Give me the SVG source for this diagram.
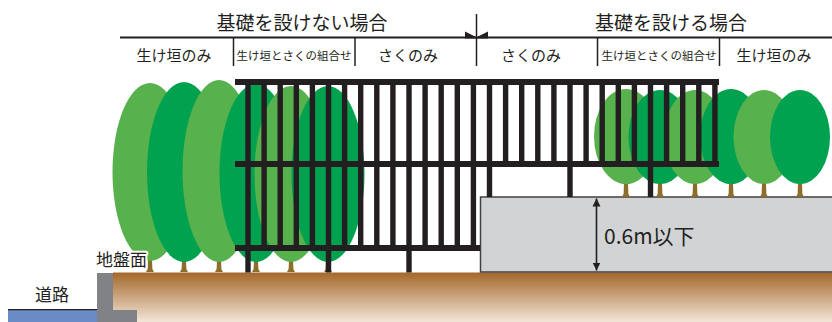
<svg xmlns="http://www.w3.org/2000/svg" xmlns:xlink="http://www.w3.org/1999/xlink" width="832" height="322" viewBox="0 0 832 322">
  <style>
    .t { font-family: "Noto Sans CJK JP", "Noto Sans", sans-serif; fill: #231f20; }
    .title { font-size: 19px; text-anchor: middle; }
    .sub { font-size: 15px; text-anchor: middle; }
    .small { font-size: 11.5px; text-anchor: middle; }
    .halo { stroke: #ffffff; stroke-width: 4px; stroke-linejoin: round; paint-order: stroke; }
    .rule { stroke: #231f20; fill: none; }
    .light { fill: #57b14c; }
    .dark { fill: #00a14f; }
    .trunk { fill: #8c6d2c; }
    .iron { fill: #231f20; }
  </style>
  <defs>
    <linearGradient id="soil" x1="0" y1="0" x2="0" y2="1">
      <stop offset="0" stop-color="#a4672a"/>
      <stop offset="1" stop-color="#f3e6d8"/>
    </linearGradient>
    <path id="trunk" d="M-2,-12 L2,-12 L2.4,-3 L4,0 L-4,0 L-2.4,-3 Z"/>
    <path id="trunkS" d="M-2,-14 L2,-14 L2.4,-3 L4,0 L-4,0 L-2.4,-3 Z"/>
    <marker id="tip" viewBox="0 0 10 10" refX="10" refY="5" markerWidth="8" markerHeight="10" markerUnits="userSpaceOnUse" orient="auto-start-reverse">
      <path d="M0,0 L10,5 L0,10 Z" fill="#231f20"/>
    </marker>
  </defs>

  <rect width="832" height="322" fill="#ffffff"/>

  <!-- header: titles, rules and column labels -->
  <g id="header">
    <text class="t title" x="302" y="30">基礎を設けない場合</text>
    <text class="t title" x="671" y="30">基礎を設ける場合</text>
    <line class="rule" x1="120" y1="37.5" x2="832" y2="37.5" stroke-width="2"/>
    <line class="rule" x1="476.5" y1="14" x2="476.5" y2="66" stroke-width="1.5"/>
    <path class="iron" d="M465,31.5 L476,37 L476,38.5 L465,38.5 Z"/>
    <path class="iron" d="M488,31.5 L477,37 L477,38.5 L488,38.5 Z"/>
    <line class="rule" x1="233.5" y1="37" x2="233.5" y2="66" stroke-width="1.5"/>
    <line class="rule" x1="355" y1="37" x2="355" y2="66" stroke-width="1.5"/>
    <line class="rule" x1="597.5" y1="37" x2="597.5" y2="66" stroke-width="1.5"/>
    <line class="rule" x1="719.5" y1="37" x2="719.5" y2="66" stroke-width="1.5"/>
    <text class="t sub" x="174" y="61">生け垣のみ</text>
    <text class="t small" x="294" y="59.5">生け垣とさくの組合せ</text>
    <text class="t sub" x="408" y="61">さくのみ</text>
    <text class="t sub" x="531" y="61">さくのみ</text>
    <text class="t small" x="659" y="59.5">生け垣とさくの組合せ</text>
    <text class="t sub" x="774" y="61">生け垣のみ</text>
  </g>

  <!-- ground, curb and road -->
  <g id="ground">
    <rect x="113" y="272.5" width="719" height="49.5" fill="url(#soil)"/>
    <path d="M97,273 L113,273 L113,310 L137,310 L137,322 L97,322 Z" fill="#808285"/>
    <rect x="8" y="310" width="89" height="12" fill="#6b8bc7"/>
    <line x1="8" y1="309.6" x2="97" y2="309.6" stroke="#231f20" stroke-width="1.4"/>
  </g>

  <!-- raised foundation -->
  <g id="foundation">
    <rect x="480.5" y="197" width="353" height="75" fill="#d1d3d4" stroke="#414042" stroke-width="1.5"/>
  </g>

  <!-- hedge planted directly on the ground -->
  <g id="hedge-ground">
    <use href="#trunk" class="trunk" x="150" y="272"/>
    <use href="#trunk" class="trunk" x="184" y="272"/>
    <use href="#trunk" class="trunk" x="219" y="272"/>
    <use href="#trunk" class="trunk" x="256" y="272"/>
    <use href="#trunk" class="trunk" x="291" y="272"/>
    <use href="#trunk" class="trunk" x="328" y="272"/>
    <ellipse class="light" cx="150" cy="172" rx="37.5" ry="89"/>
    <ellipse class="dark" cx="184" cy="172" rx="37" ry="90"/>
    <ellipse class="light" cx="219" cy="171" rx="36.5" ry="91"/>
    <ellipse class="dark" cx="256" cy="173" rx="36.5" ry="89"/>
    <ellipse class="light" cx="291" cy="174" rx="36.5" ry="88"/>
    <ellipse class="dark" cx="328" cy="174" rx="36.5" ry="88"/>
  </g>

  <!-- hedge planted on the foundation -->
  <g id="hedge-foundation">
    <use href="#trunkS" class="trunk" x="626" y="197"/>
    <use href="#trunkS" class="trunk" x="660" y="197"/>
    <use href="#trunkS" class="trunk" x="695" y="197"/>
    <use href="#trunkS" class="trunk" x="731" y="197"/>
    <use href="#trunkS" class="trunk" x="764" y="197"/>
    <use href="#trunkS" class="trunk" x="800" y="197"/>
    <ellipse class="light" cx="626" cy="136.5" rx="32" ry="47.5"/>
    <ellipse class="dark" cx="660" cy="137" rx="31.5" ry="47"/>
    <ellipse class="light" cx="695" cy="137" rx="31" ry="47"/>
    <ellipse class="dark" cx="731" cy="136.5" rx="31" ry="47.5"/>
    <ellipse class="light" cx="764" cy="137" rx="30.5" ry="47"/>
    <ellipse class="dark" cx="800" cy="137" rx="30" ry="47"/>
  </g>

  <!-- fence: rails, pickets and posts -->
  <g id="fence" class="iron">
    <rect x="235" y="79" width="484" height="6"/>
    <rect x="235" y="161" width="484" height="6"/>
    <rect x="235" y="245" width="245" height="6"/>
    <!-- full-height pickets on the ground side -->
    <rect x="245.3" y="79" width="5.4" height="172"/>
    <rect x="261.4" y="79" width="5.4" height="172"/>
    <rect x="277.5" y="79" width="5.4" height="172"/>
    <rect x="293.6" y="79" width="5.4" height="172"/>
    <rect x="309.7" y="79" width="5.4" height="172"/>
    <rect x="325.8" y="79" width="5.4" height="172"/>
    <rect x="341.9" y="79" width="5.4" height="172"/>
    <rect x="358.0" y="79" width="5.4" height="172"/>
    <rect x="374.1" y="79" width="5.4" height="172"/>
    <rect x="390.2" y="79" width="5.4" height="172"/>
    <rect x="406.3" y="79" width="5.4" height="172"/>
    <rect x="422.4" y="79" width="5.4" height="172"/>
    <rect x="438.5" y="79" width="5.4" height="172"/>
    <rect x="454.6" y="79" width="5.4" height="172"/>
    <rect x="470.7" y="79" width="5.4" height="172"/>
    <!-- upper pickets above the foundation -->
    <rect x="486.8" y="79" width="5.4" height="88"/>
    <rect x="502.9" y="79" width="5.4" height="88"/>
    <rect x="519.0" y="79" width="5.4" height="88"/>
    <rect x="535.1" y="79" width="5.4" height="88"/>
    <rect x="551.2" y="79" width="5.4" height="88"/>
    <rect x="567.3" y="79" width="5.4" height="88"/>
    <rect x="583.4" y="79" width="5.4" height="88"/>
    <rect x="599.5" y="79" width="5.4" height="88"/>
    <rect x="615.6" y="79" width="5.4" height="88"/>
    <rect x="631.7" y="79" width="5.4" height="88"/>
    <rect x="647.8" y="79" width="5.4" height="88"/>
    <rect x="663.9" y="79" width="5.4" height="88"/>
    <rect x="680.0" y="79" width="5.4" height="88"/>
    <rect x="696.1" y="79" width="5.4" height="88"/>
    <rect x="712.2" y="79" width="5.4" height="88"/>
    <!-- posts down to the ground -->
    <rect x="245.3" y="250" width="5.4" height="22.5"/>
    <rect x="325.8" y="250" width="5.4" height="22.5"/>
    <rect x="406.3" y="250" width="5.4" height="22.5"/>
    <!-- posts down to the foundation -->
    <rect x="486.8" y="166" width="5.4" height="31"/>
    <rect x="567.3" y="166" width="5.4" height="31"/>
    <rect x="647.8" y="166" width="5.4" height="31"/>
  </g>

  <!-- height dimension -->
  <g id="connectors">
    <line x1="596.5" y1="198.5" x2="596.5" y2="270.5" stroke="#231f20" stroke-width="1.6" marker-start="url(#tip)" marker-end="url(#tip)"/>
  </g>
  <g id="dimension-label">
    <text class="t" x="604" y="244" font-size="21">0.6m以下</text>
  </g>

  <!-- ground labels -->
  <g id="label-ground">
    <text class="t halo" x="96" y="266" font-size="17">地盤面</text>
  </g>
  <g id="label-road">
    <text class="t" x="35" y="301" font-size="17">道路</text>
  </g>
</svg>
